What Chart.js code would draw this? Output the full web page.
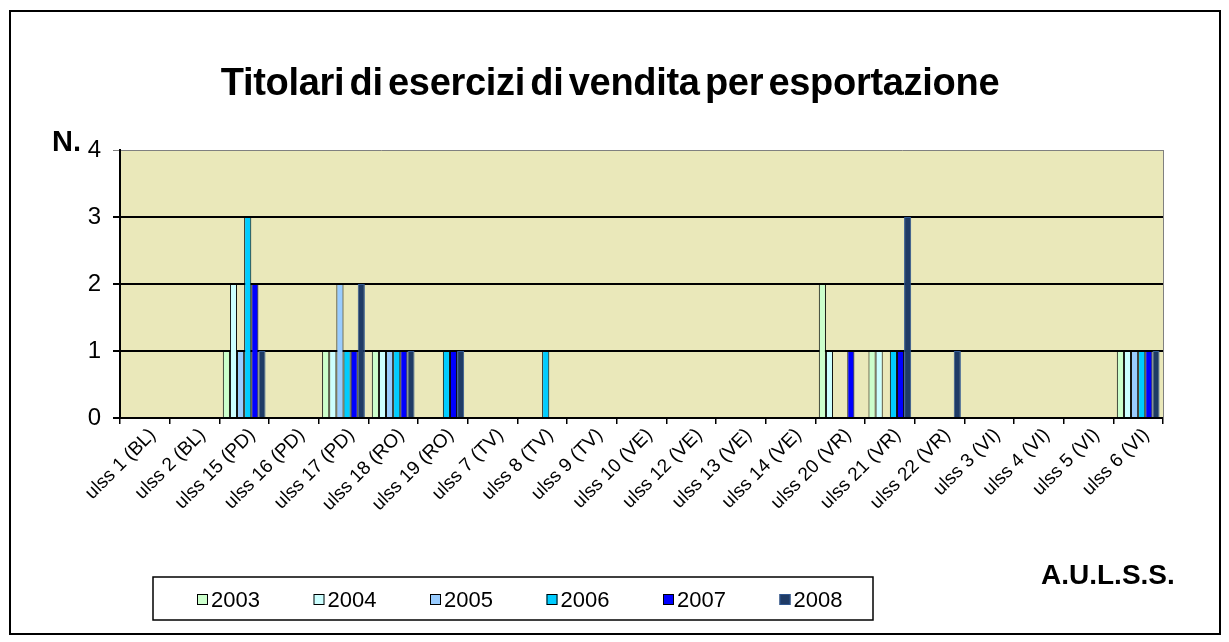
<!DOCTYPE html>
<html>
<head>
<meta charset="utf-8">
<script src="https://cdn.jsdelivr.net/npm/chart.js@4.4.0/dist/chart.umd.min.js"></script>
<style>
  html, body { margin: 0; padding: 0; background: #fff; }
  #wrap { width: 1229px; height: 642px; }
</style>
</head>
<body>
<div id="wrap"><canvas id="myChart"></canvas></div>
<script>
// dati
var ulss = ['ulss 1 (BL)', 'ulss 2 (BL)', 'ulss 15 (PD)', 'ulss 16 (PD)', 'ulss 17 (PD)', 'ulss 18 (RO)',
    'ulss 19 (RO)', 'ulss 7 (TV)', 'ulss 8 (TV)', 'ulss 9 (TV)', 'ulss 10 (VE)', 'ulss 12 (VE)',
    'ulss 13 (VE)', 'ulss 14 (VE)', 'ulss 20 (VR)', 'ulss 21 (VR)', 'ulss 22 (VR)', 'ulss 3 (VI)',
    'ulss 4 (VI)', 'ulss 5 (VI)', 'ulss 6 (VI)'];
var anni = ['2003', '2004', '2005', '2006', '2007', '2008'];
var a2003 = [0, 0, 1, 0, 1, 1, 0, 0, 0, 0, 0, 0, 0, 0, 2, 1, 0, 0, 0, 0, 1];
var a2004 = [0, 0, 2, 0, 1, 1, 0, 0, 0, 0, 0, 0, 0, 0, 1, 1, 0, 0, 0, 0, 1];
var a2005 = [0, 0, 1, 0, 2, 1, 0, 0, 0, 0, 0, 0, 0, 0, 0, 0, 0, 0, 0, 0, 1];
var a2006 = [0, 0, 3, 0, 1, 1, 1, 0, 1, 0, 0, 0, 0, 0, 0, 1, 0, 0, 0, 0, 1];
var a2007 = [0, 0, 2, 0, 1, 1, 1, 0, 0, 0, 0, 0, 0, 0, 1, 1, 0, 0, 0, 0, 1];
var a2008 = [0, 0, 1, 0, 2, 1, 1, 0, 0, 0, 0, 0, 0, 0, 0, 3, 1, 0, 0, 0, 1];
var yTicks = [0, 1, 2, 3, 4];

var colori = ['#CCFFCC', '#CCFFFF', '#99CCFF', '#00CCFF', '#0000FF', '#1F3B66'];
var bordi = ['#000', '#000', '#000', '#000', '#000', '#2F5690'];
var serie = [a2003, a2004, a2005, a2006, a2007, a2008];

function bordo(ctx) {
    return ctx.raw === 0 ? 0 : 1;
}

var datasets = [];
for (var i = 0; i < anni.length; i++) {
    datasets.push({
        label: anni[i],
        data: serie[i],
        backgroundColor: colori[i],
        borderColor: bordi[i],
        borderWidth: bordo,
        borderSkipped: 'bottom',
        categoryPercentage: 0.86,
        barPercentage: 1.0
    });
}

var sfondo = {
    id: 'sfondo',
    beforeDraw: function (chart) {
        var c = chart.ctx, a = chart.chartArea;
        c.save();
        c.fillStyle = '#fff';
        c.fillRect(0, 0, chart.width, chart.height);
        c.fillStyle = '#EAE8BA';
        c.fillRect(a.left, a.top, a.right - a.left, a.bottom - a.top);
        c.restore();
    },
    afterDraw: function (chart) {
        var c = chart.ctx, a = chart.chartArea;
        c.save();
        // bordo destro area
        c.strokeStyle = '#808080';
        c.lineWidth = 1;
        c.beginPath();
        c.moveTo(a.right + 0.5, a.top);
        c.lineTo(a.right + 0.5, a.bottom);
        c.stroke();
        // cornice esterna
        c.strokeStyle = '#000';
        c.lineWidth = 2;
        c.strokeRect(10, 11, 1210, 623);
        // testi
        c.fillStyle = '#000';
        c.textBaseline = 'alphabetic';
        c.textAlign = 'center';
        c.font = 'bold 38px "Liberation Sans", Arial, sans-serif';
        c.wordSpacing = '-5px';
        c.letterSpacing = '-0.3px';
        c.fillText('Titolari di esercizi di vendita per esportazione', 610, 95);
        c.wordSpacing = '0px';
        c.letterSpacing = '0px';
        c.textAlign = 'left';
        c.font = 'bold 29px "Liberation Sans", Arial, sans-serif';
        c.fillText('N.', 52, 151);
        c.font = 'bold 28px "Liberation Sans", Arial, sans-serif';
        c.fillText('A.U.L.S.S.', 1041, 584);
        // legenda
        c.lineWidth = 1.5;
        c.strokeRect(153, 577, 720, 43);
        c.font = '22px "Liberation Sans", Arial, sans-serif';
        c.textBaseline = 'middle';
        chart.data.datasets.forEach(function (ds, k) {
            var x = 197 + k * 116.5;
            c.fillStyle = ds.backgroundColor;
            c.fillRect(x, 594, 11, 11);
            c.strokeStyle = ds.borderColor;
            c.lineWidth = 1;
            c.strokeRect(x + 0.5, 594.5, 10, 10);
            c.fillStyle = '#000';
            c.fillText(ds.label, x + 14, 601);
        });
        c.restore();
    }
};

var ctx = document.getElementById('myChart').getContext('2d');
var chart = new Chart(ctx, {
    type: 'bar',
    data: {
        labels: ulss,
        datasets: datasets
    },
    options: {
        responsive: true,
        maintainAspectRatio: false,
        animation: false,
        layout: { padding: { left: 0, top: 150, right: 66, bottom: 0 } },
        plugins: {
            legend: { display: false },
            title: { display: false },
            tooltip: { enabled: false }
        },
        scales: {
            x: {
                afterFit: function (s) { s.height = 224; },
                grid: {
                    display: true,
                    drawOnChartArea: false,
                    drawTicks: true,
                    tickLength: 6,
                    color: '#000',
                    lineWidth: 1.5
                },
                border: { display: true, color: '#000', width: 2 },
                ticks: {
                    autoSkip: false,
                    maxRotation: 45,
                    minRotation: 45,
                    padding: 0,
                    labelOffset: 8,
                    color: '#000',
                    font: { family: '"Liberation Sans", Arial, sans-serif', size: 19 }
                }
            },
            y: {
                min: yTicks[0],
                max: yTicks[yTicks.length - 1],
                afterFit: function (s) { s.width = 120; },
                afterBuildTicks: function (s) {
                    s.ticks = yTicks.map(function (v) { return { value: v }; });
                },
                grid: {
                    color: function (c) { return c.tick && c.tick.value === 4 ? '#808080' : '#000'; },
                    lineWidth: function (c) { return c.tick && c.tick.value === 4 ? 1 : 2; },
                    tickLength: 7,
                    drawTicks: true
                },
                border: { display: true, color: '#000', width: 2 },
                ticks: {
                    padding: 12,
                    color: '#000',
                    font: { family: '"Liberation Sans", Arial, sans-serif', size: 24 }
                }
            }
        }
    },
    plugins: [sfondo]
});
</script>
</body>
</html>
